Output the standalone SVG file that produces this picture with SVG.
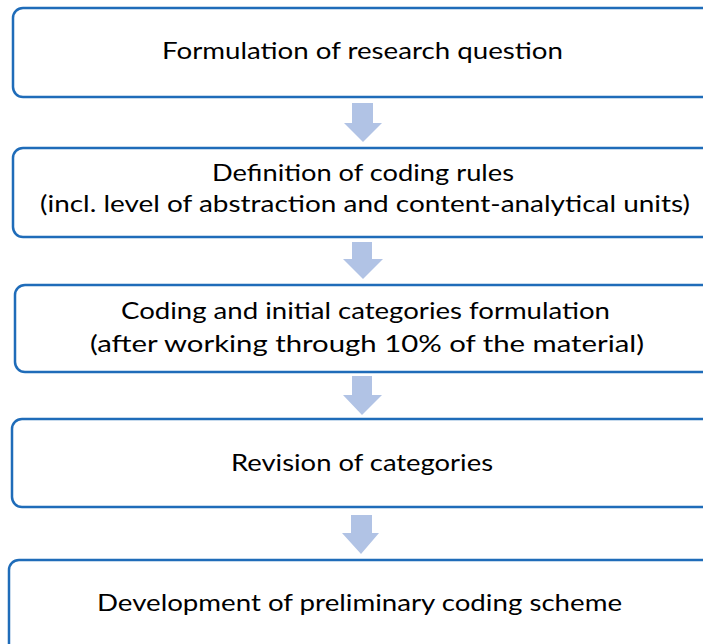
<svg xmlns="http://www.w3.org/2000/svg" width="703" height="644" viewBox="0 0 703 644">
<style>
.box{fill:#ffffff;stroke:#1f6cb9;stroke-width:2.5}
.arr{fill:#b1c3e5}
text{font-family:Lato,"Liberation Sans",Arial,sans-serif;font-size:24px;fill:#000000;text-anchor:start}
</style>
<rect width="703" height="644" fill="#ffffff"/>
<g id="connectors">
<polygon class="arr" points="352,103 373,103 373,123 382,123 363,142 344,123 352,123"/>
<polygon class="arr" points="352,242 372,242 372,259 383,259 363,279 343,259 352,259"/>
<polygon class="arr" points="352,376 372,376 372,395 382,395 362,415 343,395 352,395"/>
<polygon class="arr" points="351,515 372,515 372,533 379,533 361,554 342,533 351,533"/>
</g>
<g id="node1">
<rect class="box" x="13" y="8" width="720" height="89" rx="10"/>
<text x="162" y="59" textLength="401" lengthAdjust="spacingAndGlyphs">Formulation of research question</text>
</g>
<g id="node2">
<rect class="box" x="13" y="148" width="720" height="89" rx="10"/>
<text x="212" y="181" textLength="302" lengthAdjust="spacingAndGlyphs">Definition of coding rules</text>
<text x="40" y="212" textLength="650" lengthAdjust="spacingAndGlyphs">(incl. level of abstraction and content-analytical units)</text>
</g>
<g id="node3">
<rect class="box" x="15" y="285" width="720" height="87" rx="10"/>
<text x="121" y="319" textLength="489" lengthAdjust="spacingAndGlyphs">Coding and initial categories formulation</text>
<text x="90" y="352" textLength="554" lengthAdjust="spacingAndGlyphs">(after working through 10% of the material)</text>
</g>
<g id="node4">
<rect class="box" x="12" y="419" width="720" height="88" rx="10"/>
<text x="231" y="471" textLength="262" lengthAdjust="spacingAndGlyphs">Revision of categories</text>
</g>
<g id="node5">
<rect class="box" x="9" y="560" width="720" height="110" rx="10"/>
<text x="97" y="611" textLength="525" lengthAdjust="spacingAndGlyphs">Development of preliminary coding scheme</text>
</g>
</svg>
